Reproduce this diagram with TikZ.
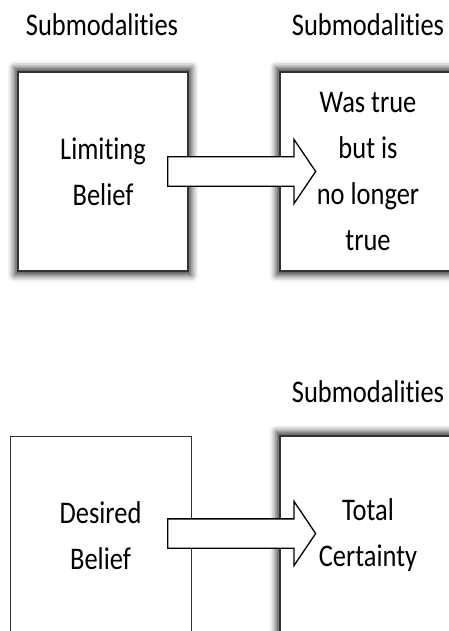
\documentclass[tikz,border=0pt]{standalone}
\usepackage{fontspec}
\setmainfont{Carlito}[FakeStretch=0.84,Ligatures=NoCommon]
\usetikzlibrary{shapes.arrows,shadows.blur}

\begin{document}
\begin{tikzpicture}[x=1pt,y=-1pt,
    font=\fontsize{31.5}{46}\selectfont,
    beliefbox/.style={draw=black!80,line width=1.3pt,fill=white,minimum width=#1,minimum height=199pt,align=center,inner sep=0pt},
    beliefbox/.default=170pt,
    shadowbox/.style={beliefbox=#1,blur shadow={shadow xshift=0pt,shadow yshift=0pt,shadow scale=1.045,shadow blur radius=6pt,shadow opacity=75}},
    shadowbox/.default=170pt,
    blockarrow/.style={single arrow,draw=black,line width=1.3pt,fill=white,minimum height=148pt,inner sep=14pt,single arrow head extend=17.5pt,single arrow tip angle=112,anchor=tail}]
    \useasboundingbox (0,0) rectangle (449,631);
    \clip (0,0) rectangle (449,631);
    \node (subA) at (102,25) {Submodalities};
    \node (subB) at (368,25) {Submodalities};
    \node[shadowbox] (limiting) at (103,171.5) {Limiting\\Belief};
    \node[shadowbox=176pt] (notrue) at (368,171.5) {Was true\\but is\\no longer\\true};
    \node[blockarrow] (arrA) at (167,171.5) {};
    \node (subC) at (368,392) {Submodalities};
    \node[beliefbox=181pt,line width=0.8pt] (desired) at (100.5,535.5) {Desired\\Belief};
    \node[shadowbox=176pt] (certainty) at (368,535.5) {Total\\Certainty};
    \node[blockarrow] (arrB) at (167,533.5) {};
\end{tikzpicture}
\end{document}
